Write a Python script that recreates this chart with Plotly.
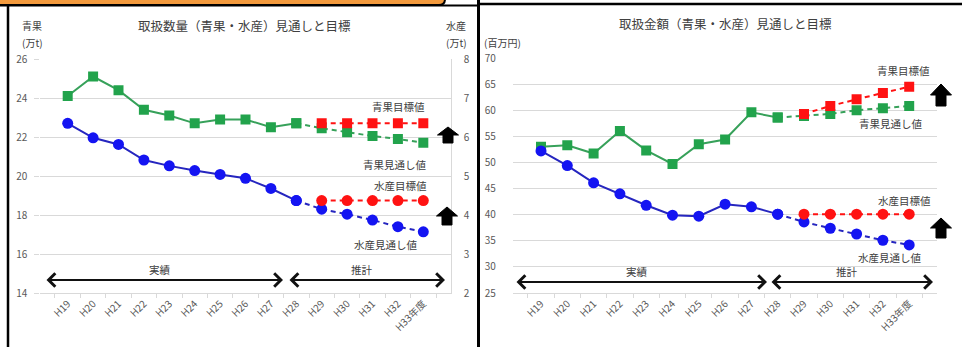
import plotly.graph_objects as go

W, H = 962, 347

years = ["H19", "H20", "H21", "H22", "H23", "H24", "H25", "H26",
         "H27", "H28", "H29", "H30", "H31", "H32", "H33年度"]
N_ACTUAL = 10  # H19–H28 are actual results, H28 onward is the outlook

# 取扱数量 (万t): 青果 on the left axis, 水産 on the right axis
qty_fruit = [24.1, 25.1, 24.4, 23.4, 23.1, 22.7, 22.9, 22.9, 22.5, 22.7,
             22.45, 22.25, 22.05, 21.9, 21.7]
qty_fruit_target = [22.7, 22.7, 22.7, 22.7, 22.7]          # H29–H33
qty_fish = [6.35, 5.98, 5.81, 5.41, 5.26, 5.14, 5.04, 4.94, 4.68, 4.37,
            4.15, 4.02, 3.87, 3.70, 3.57]
qty_fish_target = [4.37, 4.37, 4.37, 4.37, 4.37]          # H29–H33

# 取扱金額 (百万円)
amt_fruit = [53.0, 53.3, 51.7, 56.0, 52.3, 49.7, 53.5, 54.4, 59.6, 58.6,
             58.9, 59.3, 60.0, 60.4, 60.8]
amt_fruit_target = [59.3, 60.8, 62.1, 63.3, 64.5]         # H29–H33
amt_fish = [52.2, 49.4, 46.1, 44.0, 41.8, 39.9, 39.7, 42.0, 41.5, 40.1,
            38.6, 37.4, 36.3, 35.1, 34.2]
amt_fish_target = [40.1, 40.1, 40.1, 40.1, 40.1]          # H29–H33

qty_left_ticks = [14, 16, 18, 20, 22, 24, 26]
qty_right_ticks = [2, 3, 4, 5, 6, 7, 8]
amt_ticks = [25, 30, 35, 40, 45, 50, 55, 60, 65, 70]

FONT = "Noto Sans CJK JP"
GREEN, GREEN_LINE = "#22a34c", "#37a15a"
BLUE, BLUE_LINE = "#1414f2", "#2626bf"
RED = "#ff1212"
GRID = "#d9d9d9"
TXT = "#404040"
TICK = "#595959"
DASH = "5px,4px"


def px(x):
    return x / W


def py(y):
    return 1 - y / H


fig = go.Figure()


def add_series(xa, ya, values, color, line_color, symbol, size):
    fig.add_trace(go.Scatter(
        x=years[:N_ACTUAL], y=values[:N_ACTUAL], xaxis=xa, yaxis=ya,
        mode="lines+markers",
        line=dict(color=line_color, width=2),
        marker=dict(color=color, symbol=symbol, size=size),
        showlegend=False, hoverinfo="skip"))
    fig.add_trace(go.Scatter(
        x=years[N_ACTUAL - 1:], y=values[N_ACTUAL - 1:], xaxis=xa, yaxis=ya,
        mode="lines+markers",
        line=dict(color=line_color, width=2, dash=DASH),
        marker=dict(color=color, symbol=symbol, size=size),
        showlegend=False, hoverinfo="skip"))


def add_target(xa, ya, values, symbol, size):
    fig.add_trace(go.Scatter(
        x=years[N_ACTUAL:], y=values, xaxis=xa, yaxis=ya,
        mode="lines+markers",
        line=dict(color=RED, width=2, dash=DASH),
        marker=dict(color=RED, symbol=symbol, size=size),
        showlegend=False, hoverinfo="skip"))


# 取扱数量
add_series("x", "y", qty_fruit, GREEN, GREEN_LINE, "square", 10)
add_target("x", "y", qty_fruit_target, "square", 10)
add_series("x", "y2", qty_fish, BLUE, BLUE_LINE, "circle", 11)
add_target("x", "y2", qty_fish_target, "circle", 11)

# 取扱金額
add_series("x3", "y3", amt_fruit, GREEN, GREEN_LINE, "square", 10)
add_target("x3", "y3", amt_fruit_target, "square", 10)
add_series("x3", "y3", amt_fish, BLUE, BLUE_LINE, "circle", 11)
add_target("x3", "y3", amt_fish_target, "circle", 11)

xcommon = dict(type="category", categoryorder="array", categoryarray=years,
               tickangle=-45, tickfont=dict(family=FONT, size=10, color=TICK),
               showline=True, linecolor=GRID, linewidth=1,
               ticks="outside", ticklen=4, tickcolor=GRID, tickson="boundaries",
               showgrid=False, fixedrange=True, automargin=False)

ydom = [py(293), py(59)]

fig.update_layout(
    width=W, height=H,
    margin=dict(l=0, r=0, t=0, b=0),
    paper_bgcolor="white", plot_bgcolor="white",
    font=dict(family=FONT, color=TXT),
    xaxis=dict(domain=[px(40.3), px(450.7)], anchor="y", **xcommon),
    yaxis=dict(domain=ydom, range=[14, 26], tickvals=qty_left_ticks,
               gridcolor=GRID, zeroline=False, showline=False,
               ticks="outside", ticklen=5, tickcolor=GRID,
               ticklabelstandoff=5, automargin=False,
               tickfont=dict(family=FONT, size=10, color=TICK)),
    yaxis2=dict(domain=ydom, range=[2, 8], tickvals=qty_right_ticks,
                overlaying="y", side="right", anchor="x",
                showgrid=False, zeroline=False,
                showline=True, linecolor=GRID, ticks="",
                ticklabelstandoff=10, automargin=False,
                tickfont=dict(family=FONT, size=10, color=TICK)),
    xaxis3=dict(domain=[px(512.9), px(937.3)], anchor="y3", **xcommon),
    yaxis3=dict(domain=[py(293), py(58)], range=[25, 70], tickvals=amt_ticks,
                anchor="x3", gridcolor=GRID, zeroline=False, showline=False,
                ticks="", ticklabelstandoff=16, automargin=False,
                tickfont=dict(family=FONT, size=10, color=TICK)),
)


def label(text, x, y, size=10.5, color=TXT):
    fig.add_annotation(text=text, x=px(x), y=py(y), xref="paper", yref="paper",
                       showarrow=False, xanchor="center", yanchor="middle",
                       font=dict(family=FONT, size=size, color=color))


# titles and axis captions
label("取扱数量（青果・水産）見通しと目標", 244, 26, size=12.5)
label("取扱金額（青果・水産）見通しと目標", 725, 24, size=12.5)
label("青果", 32, 26, size=10)
label("(万t)", 32, 43, size=10)
label("水産", 456, 25, size=10)
label("(万t)", 456, 42, size=10)
label("(百万円)", 503, 42, size=10)

# series captions
label("青果目標値", 398, 106)
label("青果見通し値", 395, 164)
label("水産目標値", 400, 185)
label("水産見通し値", 386, 244)
label("青果目標値", 903, 70)
label("青果見通し値", 891, 123)
label("水産目標値", 904, 200)
label("水産見通し値", 890, 257)

# actual / estimate periods
label("実績", 160, 269)
label("推計", 362, 269)
label("実績", 637, 271)
label("推計", 847, 271)


def period_arrow(x0, x1, y):
    fig.add_annotation(x=px(x1), y=py(y), ax=-(x1 - x0), ay=0,
                       xref="paper", yref="paper", axref="pixel", ayref="pixel",
                       text="", showarrow=True, arrowside="end+start",
                       arrowhead=4, startarrowhead=4, arrowsize=1.3,
                       startarrowsize=1.3, arrowwidth=2, arrowcolor="#111111")


period_arrow(45, 283, 280)
period_arrow(288, 445, 280)
period_arrow(515, 767, 282)
period_arrow(770, 933, 282)


def up_arrow(cx, top, bottom, w=21, sw=10, head=0.5):
    hb = top + (bottom - top) * head
    pts = [(cx, top), (cx + w / 2, hb), (cx + sw / 2, hb), (cx + sw / 2, bottom),
           (cx - sw / 2, bottom), (cx - sw / 2, hb), (cx - w / 2, hb)]
    path = "M " + " L ".join(f"{px(a):.5f},{py(b):.5f}" for a, b in pts) + " Z"
    fig.add_shape(type="path", path=path, xref="paper", yref="paper",
                  fillcolor="#000000", line=dict(color="#000000", width=1))


up_arrow(448, 127, 143)
up_arrow(447, 207, 225)
up_arrow(941, 84, 106)
up_arrow(941, 218, 238)


def hline(x0, x1, y, w):
    fig.add_shape(type="line", x0=px(x0), x1=px(x1), y0=py(y), y1=py(y),
                  xref="paper", yref="paper", line=dict(color="#000000", width=w))


def vline(x, y0, y1, w):
    fig.add_shape(type="line", x0=px(x), x1=px(x), y0=py(y0), y1=py(y1),
                  xref="paper", yref="paper", line=dict(color="#000000", width=w))


# panel frames
vline(8, 5, 350, 2.5)
hline(0, 479, 5.5, 2)
vline(478.5, 0, 350, 3)
hline(478, 962, 4, 2.5)

# orange header tab across the top of the left panel
r = 6
tab = (f"M {px(-2)},{py(-3)} L {px(445)},{py(-3)} L {px(445)},{py(5 - r)} "
       f"Q {px(445)},{py(5)} {px(445 - r)},{py(5)} L {px(-2)},{py(5)} Z")
fig.add_shape(type="path", path=tab, xref="paper", yref="paper",
              fillcolor="#f39a3d", line=dict(color="#000000", width=2))

fig.write_html("out.html")
